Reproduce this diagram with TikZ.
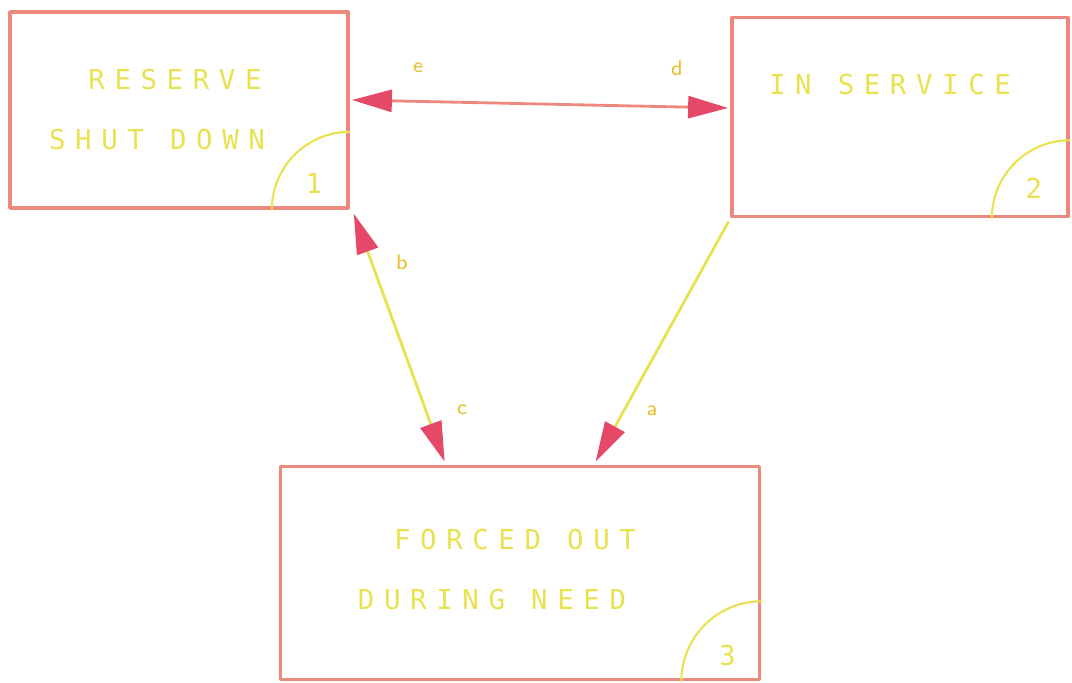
\documentclass[tikz,border=0pt]{standalone}
\usepackage{fontspec}
\newfontfamily\plotfont[LetterSpace=35]{DejaVu Sans Mono}
\usetikzlibrary{arrows.meta,calc}
\definecolor{boxred}{RGB}{236,136,124}
\definecolor{penyellow}{RGB}{232,226,80}
\definecolor{tipred}{RGB}{230,72,104}
\definecolor{tagorange}{RGB}{232,190,40}

\begin{document}
\begin{tikzpicture}[x=0.01cm, y=-0.01cm, line join=round, line cap=round,
	statebox/.style={draw=boxred, line width=1pt, inner sep=0pt},
	statetext/.style={text=penyellow, font=\plotfont\fontsize{7.8}{9}\selectfont},
	tag/.style={text=tagorange, font=\sffamily\fontsize{6}{7}\selectfont},
	corner/.style={draw=penyellow, line width=0.6pt},
	link/.style={line width=0.8pt, -{Triangle[length=4mm,width=2.2mm,color=tipred]}},
	both/.style={line width=0.8pt, {Triangle[length=4mm,width=2.2mm,color=tipred]}-{Triangle[length=4mm,width=2.2mm,color=tipred]}}]
		\useasboundingbox (0,0) rectangle (1072,683);
		% states
		\node[statebox, minimum width=3.38cm, minimum height=1.96cm] (reserve) at (179,110) {};
		\node[statebox, minimum width=3.36cm, minimum height=1.99cm] (service) at (900,117) {};
		\node[statebox, minimum width=4.79cm, minimum height=2.13cm] (forced) at (520,573) {};
		\node[statetext] (reserveA) at (175,80) {RESERVE};
		\node[statetext] (reserveB) at (157,140) {SHUT DOWN};
		\node[statetext] (serviceA) at (890,85) {IN SERVICE};
		\node[statetext] (forcedA) at (515,540) {FORCED OUT};
		\node[statetext] (forcedB) at (492,600) {DURING NEED};
		% state numbers
		\draw[corner] ($(reserve.south east)+(-78,0)$) arc (180:270:78);
		\draw[corner] ($(service.south east)+(-78,0)$) arc (180:270:78);
		\draw[corner] ($(forced.south east)+(-80,0)$) arc (180:270:80);
		\node[statetext] (one) at ($(reserve.south east)+(-36,-26)$) {1};
		\node[statetext] (two) at ($(service.south east)+(-36,-30)$) {2};
		\node[statetext] (three) at ($(forced.south east)+(-34,-26)$) {3};
		% transitions
		\coordinate (rs) at ($(reserve.east)+(2,-10)$);
		\coordinate (sr) at ($(service.west)+(-2,-9)$);
		\coordinate (rf) at ($(reserve.south east)+(4,4)$);
		\coordinate (fr) at ($(forced.north west)+(166,-3)$);
		\coordinate (sf) at ($(service.south west)+(-2,4)$);
		\coordinate (fs) at ($(forced.north west)+(317,-3)$);
		\draw[both, draw=boxred] (rs) -- (sr);
		\draw[both, draw=penyellow] (rf) -- (fr);
		\draw[link, draw=penyellow] (sf) -- (fs);
		\node[tag] (e) at (418,68) {e};
		\node[tag] (d) at (677,68) {d};
		\node[tag] (b) at (402,262) {b};
		\node[tag] (c) at (462,410) {c};
		\node[tag] (a) at (652,411) {a};
	\end{tikzpicture}
\end{document}
